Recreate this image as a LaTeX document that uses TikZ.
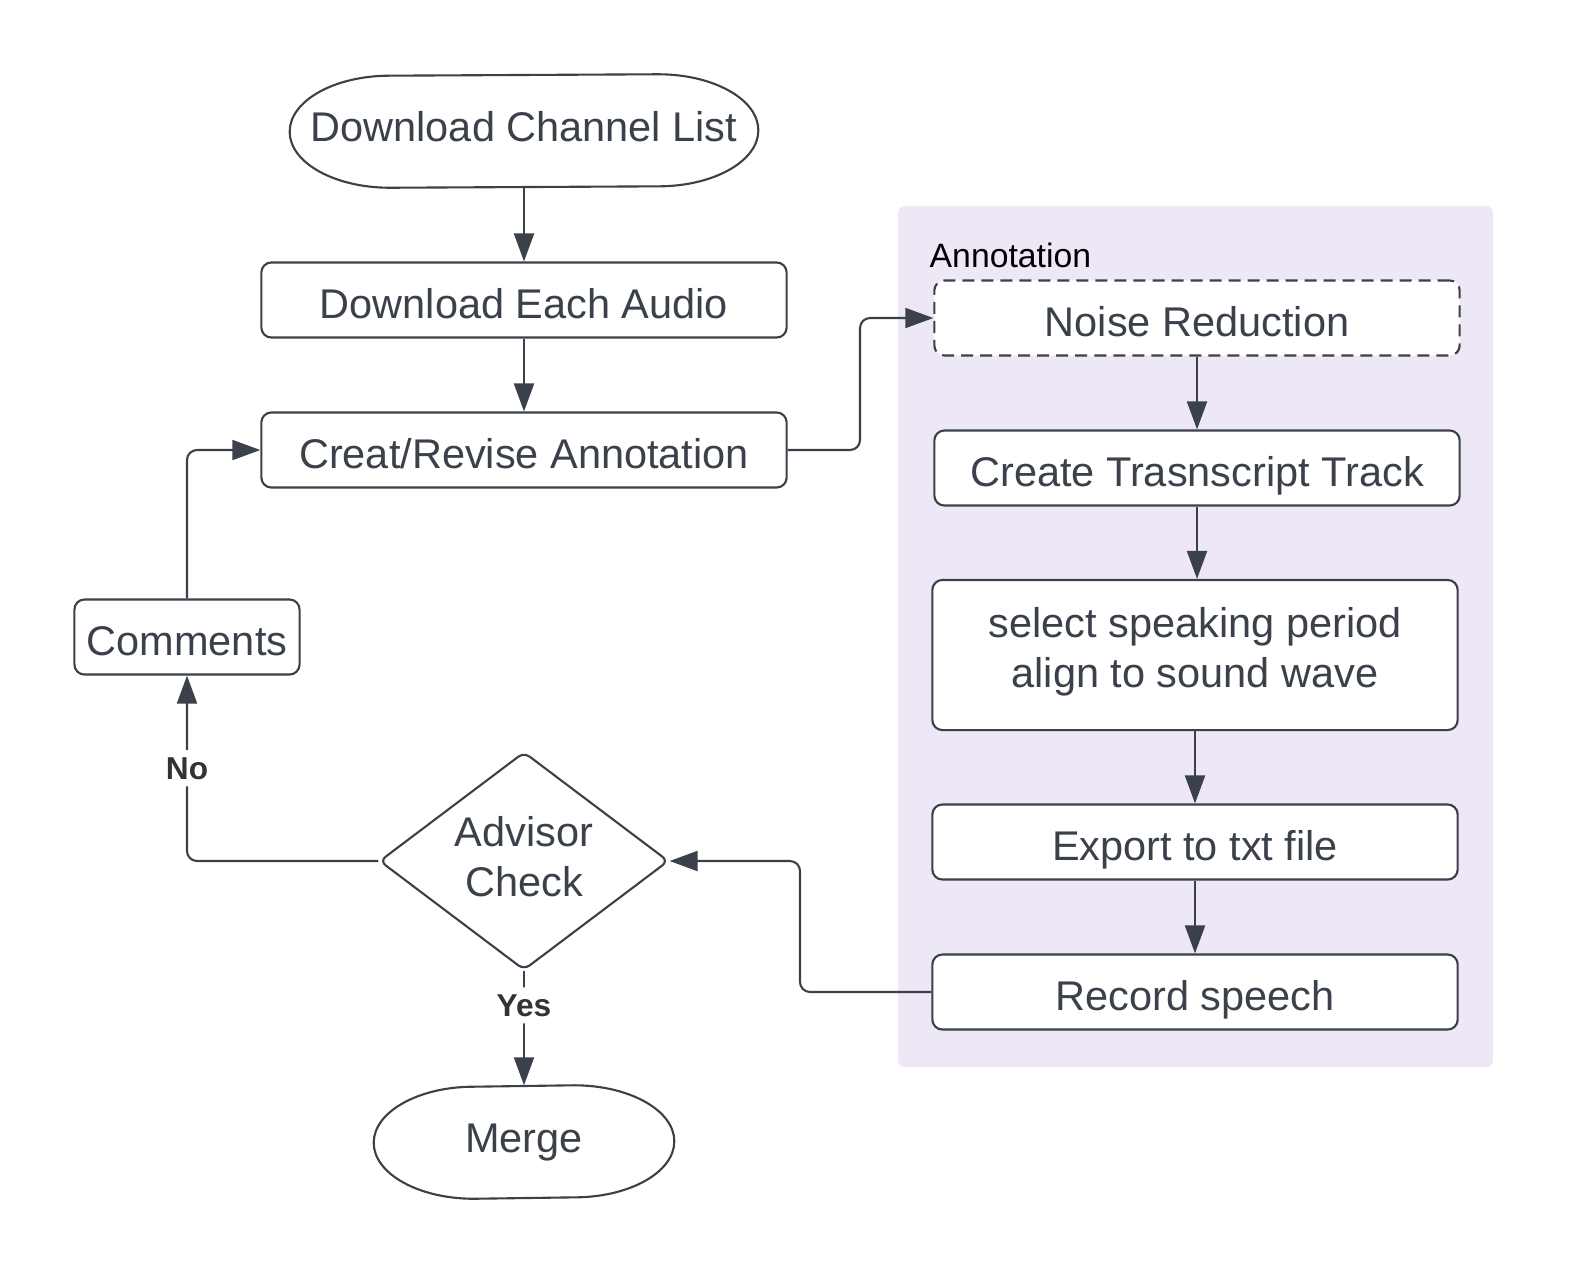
\documentclass[tikz,border=0pt]{standalone}
\usepackage{fontspec}
\setmainfont{Liberation Sans}
\usetikzlibrary{shapes.geometric,arrows.meta}

\definecolor{ink}{HTML}{3A414A}
\definecolor{panelbg}{HTML}{EDE7F6}

\tikzset{
  label font/.style={font=\fontsize{11.8}{14.2}\selectfont},
  stepbox/.style={draw=ink, line width=0.6pt, rounded corners=0.1cm, fill=white,
    text=ink, label font, minimum width=5.25cm, minimum height=0.75cm,
    inner sep=0pt, align=center, text height=10.5pt, text depth=0pt},
  termbox/.style={text=ink, label font, minimum width=4.67cm, minimum height=1.12cm,
    inner sep=0pt, text height=8.5pt, text depth=2.3pt},
  decision/.style={diamond, draw=ink, line width=0.6pt, rounded corners=2pt,
    fill=white, text=ink, label font, align=center, shape aspect=1.33,
    minimum width=2.89cm, minimum height=2.18cm, inner sep=0pt,
    text height=22.7pt, text depth=2.8pt},
  link/.style={draw=ink, line width=0.6pt, rounded corners=0.1cm,
    -{Triangle[length=0.28cm,width=0.2cm]}},
  answer/.style={fill=white, text=black!80, font=\fontsize{9}{10}\selectfont\bfseries,
    inner sep=2pt}
}

%% terminator outline round a named node
\newcommand{\termline}[2]{%
  \draw[ink, line width=0.6pt]
    ([xshift=#2]#1.south west) arc[start angle=270, end angle=90, x radius=#2, y radius=0.56cm]
    -- ([xshift=-#2]#1.north east) arc[start angle=90, end angle=-90, x radius=#2, y radius=0.56cm]
    -- cycle;}

\begin{document}
\begin{tikzpicture}[x=0.01cm, y=-0.01cm]

\useasboundingbox (0,0) rectangle (1571,1275);

%% Annotation panel
\fill [panelbg, rounded corners=2pt] (898,206) rectangle (1493,1067);
\node [anchor=base west, font=\fontsize{9.6}{11}\selectfont, inner sep=0pt] (annot) at (929,267) {Annotation};

%% Main column
\node [termbox] (chanlist) at (524,131) {Download Channel List};
\termline{chanlist}{1cm}
\node [stepbox] (eachaudio) at (524,300) {Download Each Audio};
\node [stepbox] (revise) at (524,450) {Creat/Revise Annotation};
\node [stepbox, minimum width=2.25cm] (comments) at (187,637) {Comments};
\node [decision] (advisor) at (524,861) {Advisor\\Check};
\node [termbox, minimum width=2.99cm] (merge) at (524,1142) {Merge};
\termline{merge}{1cm}

%% Annotation steps
\node [stepbox, dash pattern=on 0.12cm off 0.07cm] (noise) at (1197,318) {Noise Reduction};
\node [stepbox] (track) at (1197,468) {Create Trasnscript Track};
\node [stepbox, minimum height=1.5cm, text height=22.8pt, text depth=4.2pt] (speak) at (1195,655) {select speaking period\\align to sound wave};
\node [stepbox] (export) at (1195,842) {Export to txt file};
\node [stepbox] (record) at (1195,992) {Record speech};

%% Connectors
\draw [link] (chanlist.south) -- (eachaudio.north);
\draw [link] (eachaudio.south) -- (revise.north);
\draw [link] (revise.east) -- (860,450) |- (noise.west);
\draw [link] (noise.south) -- (noise.south |- track.north);
\draw [link] (track.south) -- (track.south |- speak.north);
\draw [link] (speak.south) -- (export.north);
\draw [link] (export.south) -- (record.north);
\draw [link] (record.west) -- (800,992) |- (advisor.east);
\draw [link] (advisor.west) -| (comments.south) node [answer, pos=0.75] (no) {No};
\draw [link] (comments.north) |- (revise.west);
\draw [link] (advisor.south) -- (merge.north) node [answer, pos=0.3] (yes) {Yes};

\end{tikzpicture}
\end{document}
